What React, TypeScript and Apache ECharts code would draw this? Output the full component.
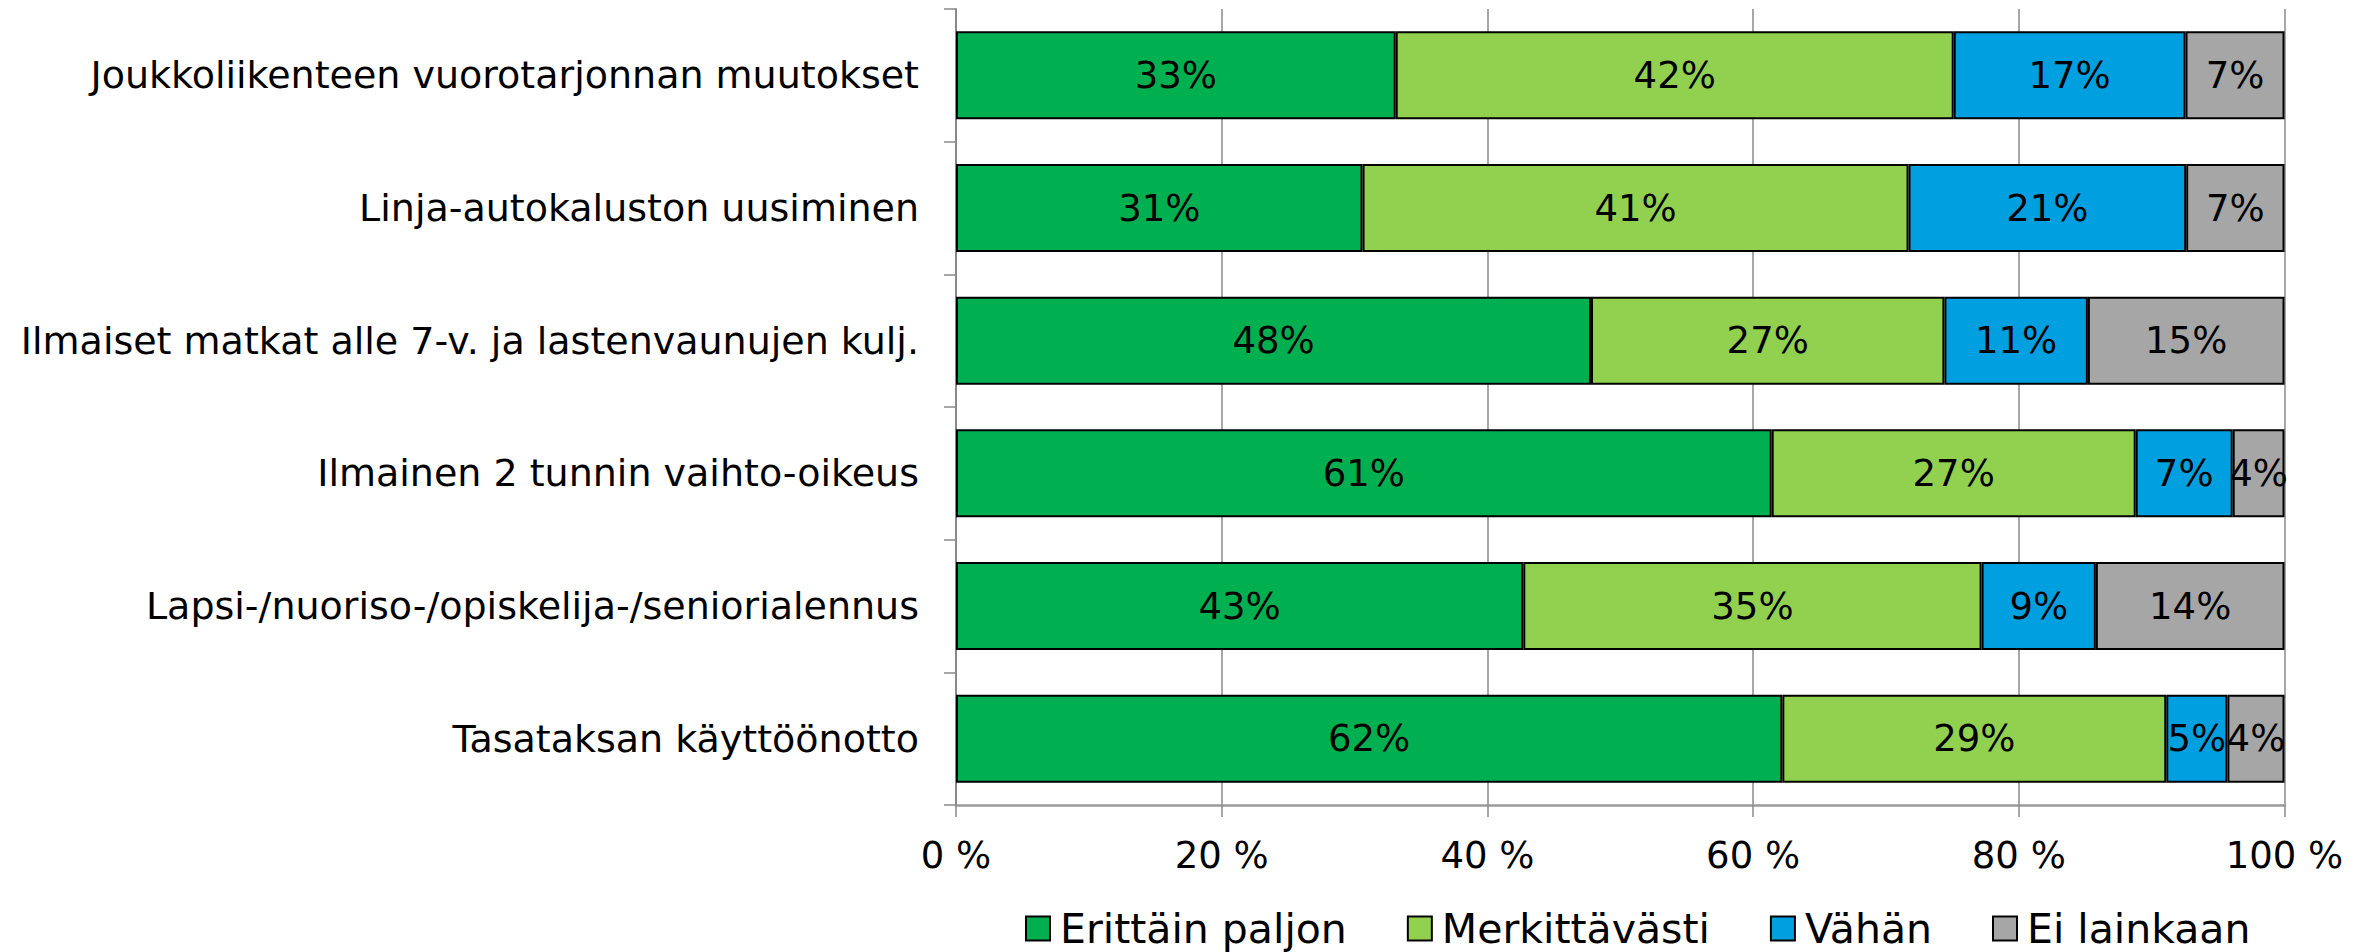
import React, { useEffect, useRef } from "react";
import * as echarts from "echarts";

const categories = [
  "Joukkoliikenteen vuorotarjonnan muutokset",
  "Linja-autokaluston uusiminen",
  "Ilmaiset matkat alle 7-v. ja lastenvaunujen kulj.",
  "Ilmainen 2 tunnin vaihto-oikeus",
  "Lapsi-/nuoriso-/opiskelija-/seniorialennus",
  "Tasataksan käyttöönotto",
];

const seriesNames = ["Erittäin paljon", "Merkittävästi", "Vähän", "Ei lainkaan"];
const seriesColors = ["#00B050", "#92D050", "#00A0E0", "#A6A6A6"];

const erittainPaljon = [33.1, 30.6, 47.8, 61.4, 42.7, 62.2];
const merkittavasti = [42.0, 41.1, 26.6, 27.4, 34.5, 28.9];
const vahan = [17.45, 20.9, 10.8, 7.3, 8.6, 4.6];
const eiLainkaan = [7.45, 7.4, 14.8, 3.9, 14.2, 4.3];

const xTicks = [0, 20, 40, 60, 80, 100];

const FONT = "DejaVu Sans";

export default function App() {
  const ref = useRef<HTMLDivElement>(null);
  useEffect(() => {
    if (!ref.current) return;
    const chart = echarts.init(ref.current, null, { renderer: "svg" });
    const values = [erittainPaljon, merkittavasti, vahan, eiLainkaan];
    chart.setOption({
      animation: false,
      textStyle: { fontFamily: FONT },
      grid: { left: 956, right: 81.5, top: 9, bottom: 147, containLabel: false },
      legend: {
        left: 1020,
        top: 903,
        icon: "rect",
        itemWidth: 24,
        itemHeight: 24,
        itemGap: 60,
        textStyle: {
          fontFamily: FONT,
          fontSize: 41,
          color: "#000",
          padding: [0, 0, 0, 5],
        },
        data: seriesNames,
      },
      xAxis: {
        type: "value",
        min: xTicks[0],
        max: xTicks[xTicks.length - 1],
        interval: 20,
        axisLine: { show: true, lineStyle: { color: "#9a9a9a", width: 2.5 } },
        axisTick: { show: true, length: 12, lineStyle: { color: "#8a8a8a", width: 1.5 } },
        splitLine: { show: true, lineStyle: { color: "#8a8a8a", width: 1.5 } },
        axisLabel: {
          fontFamily: FONT,
          fontSize: 37,
          color: "#000",
          margin: 32,
          formatter: (v: number) => `${v} %`,
        },
      },
      yAxis: {
        type: "category",
        inverse: true,
        data: categories,
        axisLine: { show: true, lineStyle: { color: "#8a8a8a", width: 2 } },
        axisTick: { show: true, length: 12, lineStyle: { color: "#8a8a8a", width: 1.5 } },
        axisLabel: { fontFamily: FONT, fontSize: 38, color: "#000", margin: 37 },
      },
      series: seriesNames.map((name, i) => ({
        name,
        type: "bar",
        stack: "total",
        barWidth: 88,
        data: values[i],
        itemStyle: { color: seriesColors[i], borderColor: "#000", borderWidth: 2 },
        label: {
          show: true,
          position: "inside",
          fontFamily: FONT,
          fontSize: 37,
          color: "#000",
          formatter: (p: any) => `${Math.round(p.value)}%`,
        },
      })),
    });
    return () => chart.dispose();
  }, []);
  return (
    <div
      ref={ref}
      style={{ position: "absolute", left: 0, top: 0, width: 2366, height: 952 }}
    />
  );
}
